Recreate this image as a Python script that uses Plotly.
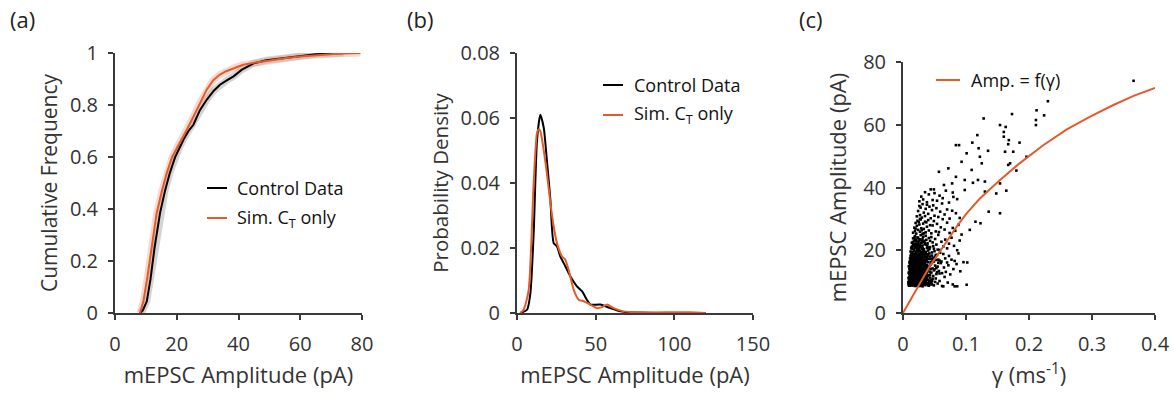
import plotly.graph_objects as go

W, H = 1174, 394
ORANGE = "#E35B2A"
AXC = "#3a3a3a"
FONT = "Open Sans"

# ---- Panel (a): cumulative frequency ----
cdf_ctrl_x = [8.1, 9.0, 10.3, 11.5, 12.8, 14.6, 16.2, 17.8, 19.5, 21.0, 22.2, 23.8, 25.4, 27.5, 29.7, 32.0, 34.0, 36.2, 38.4, 41.0, 44.9, 49.0, 54.6, 60.0, 65.0, 70.8, 74.0]
cdf_ctrl_y = [0.0, 0.01, 0.045, 0.13, 0.25, 0.385, 0.47, 0.54, 0.60, 0.64, 0.667, 0.70, 0.724, 0.78, 0.82, 0.855, 0.878, 0.895, 0.91, 0.935, 0.96, 0.972, 0.98, 0.99, 0.995, 0.998, 1.0]
cdf_sim_x = [8.1, 9.2, 10.5, 12.0, 13.5, 15.2, 16.8, 18.5, 20.0, 21.6, 23.5, 25.4, 27.5, 29.7, 31.8, 34.0, 36.0, 38.4, 41.5, 44.9, 50.0, 55.0, 60.0, 66.0, 72.0, 79.5]
cdf_sim_y = [0.0, 0.045, 0.14, 0.27, 0.385, 0.47, 0.54, 0.60, 0.635, 0.667, 0.71, 0.756, 0.81, 0.859, 0.895, 0.917, 0.93, 0.942, 0.955, 0.962, 0.972, 0.98, 0.987, 0.993, 0.997, 1.0]

# ---- Panel (b): probability density ----
pdf_ctrl_x = [2.0, 6.4, 8.5, 10.6, 12.7, 14.8, 17.0, 19.0, 21.2, 23.3, 25.4, 27.5, 30.7, 33.9, 38.1, 41.3, 44.5, 46.6, 53.0, 59.3, 65.7, 72.0, 89.0, 120.0]
pdf_ctrl_y = [0.0, 0.001, 0.006, 0.0246, 0.053, 0.061, 0.057, 0.047, 0.035, 0.0215, 0.0205, 0.0174, 0.0144, 0.0113, 0.0082, 0.0067, 0.004, 0.0026, 0.0026, 0.0015, 0.0005, 0.0002, 0.0, 0.0]
pdf_sim_x = [2.0, 4.2, 7.4, 10.6, 12.7, 13.8, 14.8, 17.0, 19.0, 21.2, 23.3, 25.4, 28.6, 30.7, 32.8, 36.0, 39.2, 42.4, 46.6, 50.8, 54.0, 57.2, 61.4, 67.8, 78.0, 110.0, 120.0]
pdf_sim_y = [0.0, 0.001, 0.007, 0.04, 0.0554, 0.0565, 0.056, 0.050, 0.043, 0.034, 0.0267, 0.0215, 0.0174, 0.0164, 0.0133, 0.0072, 0.0041, 0.0036, 0.0026, 0.0015, 0.0018, 0.0026, 0.0015, 0.0005, 0.0002, 0.0002, 0.0]

# ---- Panel (c): amplitude vs gamma ----
fit_gamma = [0.0, 0.021, 0.042, 0.064, 0.085, 0.100, 0.122, 0.154, 0.185, 0.222, 0.260, 0.297, 0.334, 0.366, 0.400]
fit_amp = [0.0, 7.4, 14.8, 21.2, 27.5, 31.5, 36.5, 42.4, 47.7, 53.4, 58.5, 62.6, 66.3, 69.2, 71.7]

scatter_points = [
    # amp 8.5-12
    (0.009,9.1),(0.011,8.7),(0.012,10.2),(0.010,11.5),(0.013,9.6),(0.014,11.0),(0.015,8.9),(0.016,10.4),(0.017,9.3),(0.018,11.8),
    (0.019,8.6),(0.020,10.0),(0.021,9.4),(0.022,11.2),(0.023,8.8),(0.024,10.7),(0.025,9.9),(0.026,11.6),(0.027,9.0),(0.028,10.5),
    (0.029,8.7),(0.030,11.1),(0.031,9.7),(0.032,10.3),(0.033,9.2),(0.034,11.4),(0.035,8.9),(0.036,10.1),(0.038,9.5),(0.039,11.7),
    (0.040,10.6),(0.042,9.0),(0.043,11.3),(0.045,9.8),(0.047,10.9),(0.049,8.8),(0.052,11.0),(0.055,9.4),(0.058,10.2),(0.062,8.6),
    (0.066,11.5),(0.071,9.7),(0.079,9.1),(0.086,8.5),(0.012,8.9),(0.013,11.9),(0.015,10.0),(0.017,11.3),(0.019,10.1),(0.021,11.7),
    (0.023,9.9),(0.026,8.6),(0.028,9.6),(0.031,8.5),(0.034,10.0),(0.037,11.0),(0.041,8.7),(0.044,10.4),(0.048,11.8),(0.010,10.3),
    (0.014,9.2),(0.018,10.9),(0.022,9.0),(0.025,11.9),(0.029,10.2),(0.033,11.9),(0.036,9.4),(0.040,9.3),(0.046,9.1),(0.051,9.9),
    # amp 12-16
    (0.010,12.4),(0.011,13.8),(0.012,15.1),(0.013,12.9),(0.014,14.6),(0.015,13.3),(0.016,15.7),(0.017,12.2),(0.018,14.0),(0.019,15.4),
    (0.020,12.7),(0.021,13.9),(0.022,15.0),(0.023,12.5),(0.024,14.4),(0.025,13.1),(0.026,15.8),(0.027,12.3),(0.028,14.7),(0.029,13.5),
    (0.030,15.2),(0.031,12.8),(0.032,14.1),(0.033,15.6),(0.034,13.0),(0.035,14.9),(0.036,12.6),(0.037,13.7),(0.038,15.3),(0.040,12.1),
    (0.041,14.3),(0.042,13.2),(0.044,15.5),(0.045,12.9),(0.047,14.2),(0.049,13.6),(0.051,15.1),(0.053,12.4),(0.055,14.8),(0.057,13.4),
    (0.060,15.9),(0.062,12.7),(0.065,14.5),(0.068,13.1),(0.072,15.2),(0.075,12.3),(0.080,14.0),(0.085,15.6),(0.091,13.3),(0.012,13.5),
    (0.014,12.3),(0.016,14.2),(0.018,12.9),(0.020,15.9),(0.022,13.6),(0.024,12.1),(0.026,14.0),(0.028,12.0),(0.030,13.8),(0.032,12.4),
    (0.034,15.8),(0.036,14.4),(0.039,13.9),(0.043,12.2),(0.046,15.9),(0.050,13.9),(0.054,13.0),(0.058,12.6),(0.015,15.9),(0.019,12.0),
    (0.023,15.6),(0.027,14.1),(0.031,15.9),(0.035,12.2),(0.039,14.7),
    # amp 16-20
    (0.011,16.5),(0.012,18.2),(0.013,17.1),(0.014,19.4),(0.015,16.8),(0.016,18.6),(0.017,17.5),(0.018,19.8),(0.019,16.2),(0.020,18.0),
    (0.021,19.1),(0.022,16.9),(0.023,17.8),(0.024,19.6),(0.025,16.4),(0.026,18.4),(0.027,17.2),(0.028,19.3),(0.029,16.7),(0.030,18.9),
    (0.031,17.4),(0.032,19.9),(0.033,16.1),(0.034,18.1),(0.035,17.7),(0.036,19.5),(0.038,16.6),(0.039,18.7),(0.041,17.3),(0.042,19.0),
    (0.044,16.3),(0.046,18.3),(0.048,17.6),(0.050,19.7),(0.052,16.9),(0.054,18.5),(0.056,17.0),(0.059,19.2),(0.061,16.4),(0.064,18.8),
    (0.067,17.4),(0.070,16.1),(0.073,18.2),(0.077,17.0),(0.082,16.6),(0.088,19.0),(0.096,16.2),(0.013,16.0),(0.015,19.0),(0.017,16.3),
    (0.019,18.8),(0.021,16.6),(0.023,19.9),(0.025,17.9),(0.027,16.0),(0.029,18.0),(0.031,16.5),(0.033,18.9),(0.035,16.2),(0.037,17.0),
    (0.040,19.9),(0.043,18.0),(0.047,16.8),(0.051,17.9),(0.058,16.7),
    # amp 20-25
    (0.013,20.6),(0.014,22.4),(0.015,21.3),(0.016,23.8),(0.017,20.2),(0.018,22.0),(0.019,24.5),(0.020,21.1),(0.021,23.2),(0.022,20.8),
    (0.023,24.1),(0.024,22.6),(0.025,20.4),(0.026,23.5),(0.027,21.7),(0.028,24.8),(0.029,20.9),(0.030,22.9),(0.031,21.5),(0.032,24.3),
    (0.033,20.3),(0.034,23.0),(0.035,21.9),(0.036,24.6),(0.038,20.7),(0.039,22.2),(0.041,23.9),(0.043,21.0),(0.045,24.2),(0.047,22.5),
    (0.049,20.5),(0.051,23.6),(0.053,21.8),(0.056,24.9),(0.058,20.1),(0.061,22.7),(0.064,21.2),(0.067,23.4),(0.070,20.6),(0.073,22.1),
    (0.077,24.0),(0.081,21.4),(0.086,20.0),(0.090,23.1),(0.016,21.6),(0.018,24.0),(0.020,22.8),(0.022,20.0),(0.024,23.9),(0.026,21.1),
    (0.028,22.3),(0.030,20.4),(0.033,22.7),(0.037,23.3),(0.040,20.9),
    # amp 25-30
    (0.016,25.6),(0.018,27.2),(0.019,26.1),(0.020,28.7),(0.021,25.3),(0.022,27.8),(0.023,29.4),(0.024,26.5),(0.026,28.2),(0.027,25.9),
    (0.028,29.8),(0.029,27.0),(0.031,25.2),(0.032,28.5),(0.033,26.8),(0.035,29.1),(0.036,25.7),(0.038,27.5),(0.040,29.6),(0.041,26.3),
    (0.043,28.0),(0.045,25.4),(0.047,27.9),(0.049,29.3),(0.052,26.0),(0.054,28.4),(0.057,25.8),(0.060,27.3),(0.063,29.9),(0.066,26.6),
    (0.070,28.8),(0.074,25.5),(0.079,27.1),(0.083,26.2),(0.088,28.1),(0.093,25.0),(0.020,26.9),(0.025,29.0),(0.030,26.4),(0.037,28.9),
    # amp 30-35
    (0.022,30.8),(0.024,32.5),(0.026,34.1),(0.027,31.2),(0.028,33.6),(0.030,30.4),(0.031,34.7),(0.033,32.0),(0.035,30.9),(0.036,33.2),
    (0.038,34.5),(0.040,31.6),(0.042,33.9),(0.044,30.2),(0.046,32.8),(0.048,34.3),(0.050,31.0),(0.053,33.4),(0.056,30.6),(0.059,32.3),
    (0.062,34.9),(0.066,31.4),(0.070,33.0),(0.074,30.1),(0.078,32.6),(0.084,31.8),(0.090,30.3),(0.027,30.0),
    # amp 35-40
    (0.026,35.6),(0.029,37.1),(0.032,36.2),(0.035,38.5),(0.038,35.3),(0.041,37.8),(0.044,39.4),(0.047,36.0),(0.050,38.2),(0.054,35.8),
    (0.058,37.4),(0.063,36.6),(0.068,39.0),(0.073,35.2),(0.080,37.0),(0.086,36.3),
    # dense core (extra)
    (0.0085,9.8),(0.0095,10.6),(0.0105,9.3),(0.0115,12.1),(0.0125,10.8),(0.0135,8.9),(0.0145,12.6),(0.0155,11.4),(0.0165,9.7),(0.0175,13.2),
    (0.0185,10.3),(0.0195,12.8),(0.0205,9.1),(0.0215,14.5),(0.0225,10.9),(0.0235,13.4),(0.0245,8.8),(0.0255,12.0),(0.0265,10.2),(0.0275,13.9),
    (0.0285,11.2),(0.0295,14.8),(0.0305,9.9),(0.0315,12.5),(0.0325,11.0),(0.0335,13.7),(0.0345,10.4),(0.0355,16.3),(0.0365,11.7),(0.0375,12.9),
    (0.0090,12.8),(0.0100,14.2),(0.0110,11.0),(0.0120,16.6),(0.0130,14.0),(0.0140,17.7),(0.0150,12.0),(0.0160,16.9),(0.0170,14.9),(0.0180,17.3),
    (0.0190,13.6),(0.0200,17.0),(0.0210,15.3),(0.0220,18.4),(0.0230,14.0),(0.0240,17.3),(0.0250,15.0),(0.0260,19.9),(0.0270,13.0),(0.0280,16.2),
    (0.0290,15.6),(0.0300,17.6),(0.0310,14.4),(0.0320,16.8),(0.0330,14.9),(0.0340,19.0),(0.0350,15.5),(0.0360,17.9),(0.0380,14.1),(0.0400,16.2),
    (0.0095,8.7),(0.0115,9.5),(0.0135,10.5),(0.0155,9.0),(0.0175,10.6),(0.0195,9.7),(0.0215,10.5),(0.0235,9.3),(0.0255,10.4),(0.0275,8.9),
    (0.0125,11.4),(0.0145,9.9),(0.0165,11.9),(0.0185,9.5),(0.0205,11.4),(0.0225,12.4),(0.0245,11.1),(0.0265,12.9),(0.0285,9.2),(0.0305,12.0),
    (0.0110,15.6),(0.0130,18.8),(0.0150,20.5),(0.0170,21.8),(0.0190,20.7),(0.0210,22.0),(0.0230,21.4),(0.0250,23.0),(0.0270,19.7),(0.0290,21.2),
    (0.0310,23.6),(0.0330,25.4),(0.0350,19.4),(0.0370,21.8),(0.0390,18.2),(0.0420,20.4),(0.0450,17.3),(0.0480,21.3),(0.0520,18.5),(0.0550,20.2),
    (0.0160,13.1),(0.0200,13.3),(0.0240,13.0),(0.0280,13.2),(0.0320,13.5),(0.0360,13.1),(0.0180,15.5),(0.0220,16.3),(0.0260,16.7),(0.0300,16.0),
    # dense core (second pass)
    (0.0088,11.2),(0.0098,13.1),(0.0108,12.7),(0.0118,10.0),(0.0128,13.9),(0.0138,12.2),(0.0148,14.1),(0.0158,10.9),(0.0168,13.6),(0.0178,11.6),
    (0.0188,14.4),(0.0198,11.1),(0.0208,13.0),(0.0218,11.9),(0.0228,14.9),(0.0238,11.5),(0.0248,14.7),(0.0258,13.5),(0.0268,11.4),(0.0278,15.2),
    (0.0288,12.7),(0.0298,10.8),(0.0308,14.0),(0.0318,11.3),(0.0328,13.0),(0.0338,12.0),(0.0348,14.3),(0.0358,10.9),(0.0368,15.0),(0.0378,11.4),
    (0.0092,14.9),(0.0102,16.1),(0.0112,17.4),(0.0122,14.8),(0.0132,15.5),(0.0142,16.2),(0.0152,17.9),(0.0162,15.2),(0.0172,18.3),(0.0182,16.7),
    (0.0192,17.5),(0.0202,19.4),(0.0212,17.9),(0.0222,15.6),(0.0232,18.6),(0.0242,16.0),(0.0252,18.8),(0.0262,17.5),(0.0272,18.2),(0.0282,17.0),
    (0.0292,19.1),(0.0302,18.3),(0.0312,19.5),(0.0322,17.8),(0.0342,16.9),(0.0362,18.7),(0.0382,17.5),(0.0402,18.8),(0.0422,15.0),(0.0442,14.0),
    (0.0120,19.6),(0.0135,21.0),(0.0145,19.0),(0.0155,22.6),(0.0175,23.0),(0.0185,21.2),(0.0195,23.6),(0.0215,21.4),(0.0235,22.1),(0.0255,21.7),
    (0.0275,23.4),(0.0295,22.4),(0.0315,20.6),(0.0345,22.2),(0.0385,21.5),(0.0430,23.0),(0.0460,19.3),(0.0490,16.4),(0.0530,14.3),(0.0560,16.0),
    (0.0092,9.4),(0.0102,8.9),(0.0112,10.7),(0.0122,9.1),(0.0142,10.4),(0.0162,8.8),(0.0182,10.0),(0.0202,8.7),(0.0222,10.2),(0.0242,9.6),
    (0.0262,9.4),(0.0282,10.9),(0.0302,8.8),(0.0322,9.6),(0.0342,9.0),(0.0372,10.5),(0.0392,8.9),(0.0412,10.0),(0.0432,9.4),(0.0462,10.2),
    # sparse outliers
    (0.366,74.0),(0.230,67.5),(0.212,64.6),(0.224,63.0),(0.211,61.5),(0.211,59.9),(0.128,62.0),(0.173,63.4),(0.154,59.9),(0.163,59.3),
    (0.160,57.7),(0.160,56.2),(0.168,55.1),(0.167,53.8),(0.185,54.3),(0.118,56.7),(0.110,54.3),(0.084,53.5),(0.089,53.5),(0.135,51.7),
    (0.120,52.5),(0.101,50.9),(0.093,48.2),(0.122,49.8),(0.162,51.4),(0.175,51.4),(0.196,49.8),(0.170,47.7),(0.167,47.2),(0.180,45.4),
    (0.125,47.7),(0.109,45.6),(0.084,43.4),(0.072,46.1),(0.057,45.0),(0.049,39.4),(0.065,40.8),(0.078,41.3),(0.098,42.4),(0.111,41.5),
    (0.119,42.4),(0.130,41.9),(0.154,41.3),(0.148,38.1),(0.164,39.0),(0.130,38.7),(0.098,39.2),(0.079,38.4),(0.136,32.3),(0.154,31.8),
    (0.123,28.6),(0.115,29.1),(0.106,26.5),(0.102,16.1),(0.101,9.0),(0.082,8.5),(0.064,8.5),
]
scatter_gamma = [p[0] for p in scatter_points]
scatter_amp = [p[1] for p in scatter_points]

# text
legend_ctrl = "Control Data"
legend_sim = "Sim. C<sub>T</sub> only"
legend_fit = "Amp. = f(γ)"

fig = go.Figure()

# (a)
fig.add_trace(go.Scatter(x=cdf_ctrl_x, y=cdf_ctrl_y, mode="lines", line=dict(color="rgba(160,160,160,0.45)", width=7),
                         xaxis="x", yaxis="y", showlegend=False, hoverinfo="skip"))
fig.add_trace(go.Scatter(x=cdf_sim_x, y=cdf_sim_y, mode="lines", line=dict(color="rgba(240,150,120,0.35)", width=7),
                         xaxis="x", yaxis="y", showlegend=False, hoverinfo="skip"))
fig.add_trace(go.Scatter(x=cdf_ctrl_x, y=cdf_ctrl_y, mode="lines", line=dict(color="black", width=2),
                         xaxis="x", yaxis="y", showlegend=False, name=legend_ctrl))
fig.add_trace(go.Scatter(x=cdf_sim_x, y=cdf_sim_y, mode="lines", line=dict(color=ORANGE, width=2),
                         xaxis="x", yaxis="y", showlegend=False, name=legend_sim))
# (b)
fig.add_trace(go.Scatter(x=pdf_ctrl_x, y=pdf_ctrl_y, mode="lines", line=dict(color="black", width=2, shape="spline", smoothing=0.6),
                         xaxis="x2", yaxis="y2", showlegend=False, name=legend_ctrl))
fig.add_trace(go.Scatter(x=pdf_sim_x, y=pdf_sim_y, mode="lines", line=dict(color=ORANGE, width=2, shape="spline", smoothing=0.6),
                         xaxis="x2", yaxis="y2", showlegend=False, name=legend_sim))
# (c)
fig.add_trace(go.Scatter(x=scatter_gamma, y=scatter_amp, mode="markers",
                         marker=dict(color="black", size=2.6, symbol="square", line=dict(width=0)),
                         xaxis="x3", yaxis="y3", showlegend=False, name="data"))
fig.add_trace(go.Scatter(x=fit_gamma, y=fit_amp, mode="lines", line=dict(color=ORANGE, width=2),
                         xaxis="x3", yaxis="y3", showlegend=False, name=legend_fit))

def px(x):
    return x / W

def py(y):
    return 1 - y / H

tickfont = dict(family=FONT, size=20, color="#333333")
def tfont(size):
    return dict(family=FONT, size=size, color="#333333")
common = dict(showline=True, linecolor=AXC, linewidth=2, ticks="outside", ticklen=5, tickwidth=2, automargin=False,
              tickcolor=AXC, showgrid=False, zeroline=False, tickfont=tickfont, fixedrange=True)

ydom_ab = [py(313), py(53)]
fig.update_layout(
    width=W, height=H, margin=dict(l=0, r=0, t=0, b=0),
    paper_bgcolor="white", plot_bgcolor="white",
    font=dict(family=FONT, color="#333333"),
    xaxis=dict(domain=[px(115), px(362)], range=[0, 80], tickvals=[0, 20, 40, 60, 80], anchor="y",
               title=dict(text="mEPSC Amplitude (pA)", font=tfont(22), standoff=12), ticklabelstandoff=7, **common),
    yaxis=dict(domain=ydom_ab, range=[0, 1], tickvals=[0, 0.2, 0.4, 0.6, 0.8, 1], anchor="x",
               title=dict(text="Cumulative Frequency", font=tfont(21), standoff=7), ticklabelstandoff=6, **common),
    xaxis2=dict(domain=[px(517), px(753)], range=[0, 150], tickvals=[0, 50, 100, 150], anchor="y2",
                title=dict(text="mEPSC Amplitude (pA)", font=tfont(22), standoff=12), ticklabelstandoff=7, **common),
    yaxis2=dict(domain=ydom_ab, range=[0, 0.08], tickvals=[0, 0.02, 0.04, 0.06, 0.08], anchor="x2",
                title=dict(text="Probability Density", font=tfont(20.5), standoff=6), ticklabelstandoff=6, **common),
    xaxis3=dict(domain=[px(903), px(1155)], range=[0, 0.4], tickvals=[0, 0.1, 0.2, 0.3, 0.4], anchor="y3",
                title=dict(text="γ (ms<sup>-1</sup>)", font=tfont(22), standoff=12), ticklabelstandoff=7, **common),
    yaxis3=dict(domain=[py(313), py(62)], range=[0, 80], tickvals=[0, 20, 40, 60, 80], anchor="x3",
                title=dict(text="mEPSC Amplitude (pA)", font=tfont(22), standoff=10), ticklabelstandoff=6, **common),
)

# panel labels
for lab, cx in [("(a)", 22), ("(b)", 420), ("(c)", 811)]:
    fig.add_annotation(text=lab, x=px(cx), y=py(19), xref="paper", yref="paper", showarrow=False,
                       xanchor="center", yanchor="middle", font=dict(family=FONT, size=22, color="#222222"))

# legends drawn as line samples + text
legend_items = [
    (207, 227, 188, 235, legend_ctrl, "black"),
    (207, 227, 218, 235, legend_sim, ORANGE),
    (603, 623, 85, 632, legend_ctrl, "black"),
    (603, 623, 115, 632, legend_sim, ORANGE),
    (936, 960, 80, 969, legend_fit, ORANGE),
]
for x0, x1, yy, tx, txt, col in legend_items:
    fig.add_shape(type="line", xref="paper", yref="paper", x0=px(x0), x1=px(x1), y0=py(yy), y1=py(yy),
                  line=dict(color=col, width=2))
    fig.add_annotation(text=txt, x=px(tx), y=py(yy), xref="paper", yref="paper", showarrow=False,
                       xanchor="left", yanchor="middle", font=dict(family=FONT, size=18, color="#111111"))

fig.write_html("out.html")
